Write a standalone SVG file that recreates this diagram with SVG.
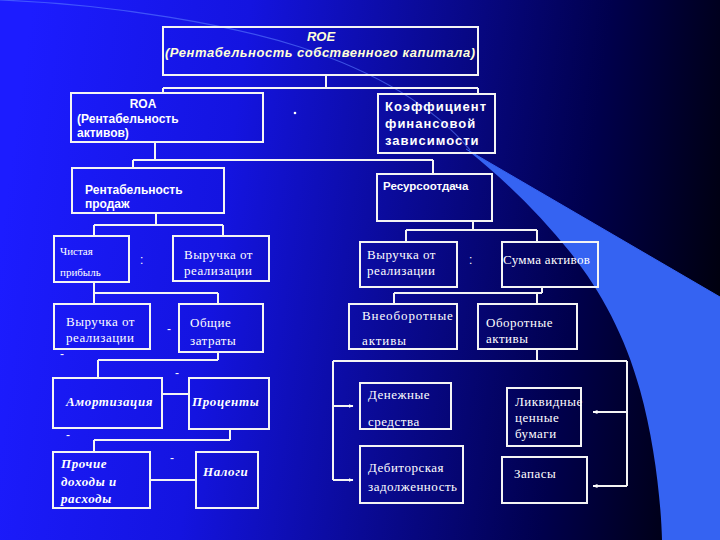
<svg xmlns="http://www.w3.org/2000/svg" width="720" height="540" viewBox="0 0 720 540">
<defs>
<linearGradient id="bg" x1="0" y1="0.45" x2="1" y2="0.55">
<stop offset="0" stop-color="#1c1cff"/>
<stop offset="0.3" stop-color="#1414e0"/>
<stop offset="0.55" stop-color="#0a0a95"/>
<stop offset="0.8" stop-color="#00004c"/>
<stop offset="1" stop-color="#00000e"/>
</linearGradient>
<marker id="ah" viewBox="0 0 10 10" refX="9" refY="5" markerWidth="5" markerHeight="5" orient="auto" markerUnits="userSpaceOnUse">
<path d="M0,1 L10,5 L0,9 Z" fill="#ffffff"/>
</marker>
<style>
.box{fill:none;stroke:#f4f4f4;stroke-width:2}
.ln{fill:none;stroke:#f4f4f4;stroke-width:2}
.hs{font-family:"Liberation Sans",Arial,sans-serif;font-weight:bold;font-size:12px;fill:#ffffff}
.tm{font-family:"Liberation Serif","Times New Roman",serif;font-size:13px;fill:#ffffff;letter-spacing:0.5px}
.ti{font-family:"Liberation Serif","Times New Roman",serif;font-weight:bold;font-style:italic;font-size:13px;fill:#ffffff;letter-spacing:0.6px}
.op{font-family:"Liberation Sans",Arial,sans-serif;font-size:12px;fill:#ffffff}
</style>
</defs>
<rect x="0" y="0" width="720" height="540" fill="url(#bg)"/>
<path d="M720,297 L720,540 L662,540 C661,500 654,440 640,390 C625,335 600,290 570,252 C540,215 505,180 466,149 Z" fill="#3563f2"/>
<path d="M466,149 L720,297" fill="none" stroke="#3563f2" stroke-width="1"/>
<path d="M0,0 C120,5 230,25 300,47 C370,70 430,102 470,150" fill="none" stroke="#5a7cff" stroke-width="1.2" opacity="0.6"/>

<g id="connectors">
<path class="ln" d="M326,75 V88 M163,88 H478 M163,88 V93 M478,88 V94"/>
<path class="ln" d="M155,142 V160 M133,160 H433 M133,160 V168 M433,160 V174"/>
<path class="ln" d="M156,213 V225 M94,225 H223 M94,225 V236 M223,225 V236"/>
<path class="ln" d="M94,282 V293 M94,293 H218 M94,293 V304 M218,293 V304"/>
<path class="ln" d="M218,352 V360 M98,360 H218 M98,360 V378"/>
<path class="ln" d="M162,394 H189"/>
<path class="ln" d="M230,429 V440 M94,440 H230 M94,440 V452"/>
<path class="ln" d="M150,480 H196"/>
<path class="ln" d="M473,221 V230 M406,230 H537 M406,230 V242 M537,230 V242"/>
<path class="ln" d="M542,287 V293 M394,293 H542 M394,293 V304 M537,293 V304"/>
<path class="ln" d="M537,349 V361 M333,361 H627 M333,361 V480 M627,361 V486"/>
<path class="ln" d="M333,406 H353" marker-end="url(#ah)"/>
<path class="ln" d="M333,480 H353" marker-end="url(#ah)"/>
<path class="ln" d="M627,412 H593" marker-end="url(#ah)"/>
<path class="ln" d="M627,486 H593" marker-end="url(#ah)"/>
</g>

<g id="roe">
<rect class="box" x="163" y="27" width="315" height="48"/>
<text x="321" y="41" text-anchor="middle" class="hs" font-style="italic" style="fill:#ffffd8;font-size:13px">ROE</text>
<text x="165" y="57" class="hs" font-style="italic" textLength="310" lengthAdjust="spacing" style="fill:#ffffd8;font-size:13px">(Рентабельность собственного капитала)</text>
</g>
<g id="roa">
<rect class="box" x="71" y="93" width="192" height="49"/>
<text x="143" y="108" text-anchor="middle" class="hs">ROA</text>
<text x="77" y="123" class="hs">(Рентабельность</text>
<text x="77" y="137" class="hs">активов)</text>
</g>
<circle cx="295" cy="113" r="1.3" fill="#ffffff"/>
<g id="kfz">
<rect class="box" x="378" y="94" width="117" height="59"/>
<text x="385" y="111" class="hs" style="font-size:13px;letter-spacing:1px">Коэффициент</text>
<text x="385" y="128" class="hs" style="font-size:13px;letter-spacing:1px">финансовой</text>
<text x="385" y="145" class="hs" style="font-size:13px;letter-spacing:1px">зависимости</text>
</g>
<g id="rp">
<rect class="box" x="72" y="168" width="152" height="45"/>
<text x="85" y="194" class="hs">Рентабельность</text>
<text x="85" y="208" class="hs">продаж</text>
</g>
<g id="ro">
<rect class="box" x="377" y="174" width="115" height="47"/>
<text x="383" y="190" class="hs" style="font-size:11.5px">Ресурсоотдача</text>
</g>
<g id="cp">
<rect class="box" x="54" y="236" width="75" height="46"/>
<text x="60" y="255" class="tm" style="font-size:11px;letter-spacing:0">Чистая</text>
<text x="60" y="276" class="tm" style="font-size:11px;letter-spacing:0">прибыль</text>
</g>
<text x="140" y="264" class="op">:</text>
<g id="vr1">
<rect class="box" x="173" y="236" width="96" height="45"/>
<text x="184" y="259" class="tm">Выручка от</text>
<text x="184" y="275" class="tm">реализации</text>
</g>
<g id="vr2">
<rect class="box" x="54" y="304" width="96" height="45"/>
<text x="66" y="326" class="tm">Выручка от</text>
<text x="66" y="342" class="tm">реализации</text>
</g>
<text x="167" y="333" class="op">-</text>
<g id="oz">
<rect class="box" x="179" y="304" width="84" height="48"/>
<text x="190" y="327" class="tm">Общие</text>
<text x="190" y="345" class="tm">затраты</text>
</g>
<text x="60" y="358" class="op">-</text>
<text x="175" y="377" class="op">-</text>
<g id="am">
<rect class="box" x="53" y="378" width="109" height="50"/>
<text x="66" y="406" class="ti">Амортизация</text>
</g>
<g id="pc">
<rect class="box" x="189" y="378" width="80" height="51"/>
<text x="192" y="406" class="ti">Проценты</text>
</g>
<text x="66" y="439" class="op">-</text>
<text x="170" y="462" class="op">-</text>
<g id="pr">
<rect class="box" x="53" y="452" width="97" height="56"/>
<text x="61" y="468" class="ti">Прочие</text>
<text x="61" y="486" class="ti">доходы и</text>
<text x="61" y="503" class="ti">расходы</text>
</g>
<g id="nl">
<rect class="box" x="196" y="452" width="62" height="56"/>
<text x="203" y="476" class="ti">Налоги</text>
</g>
<g id="vr3">
<rect class="box" x="360" y="242" width="97" height="45"/>
<text x="367" y="259" class="tm">Выручка от</text>
<text x="367" y="275" class="tm">реализации</text>
</g>
<text x="469" y="264" class="op">:</text>
<g id="sa">
<rect class="box" x="502" y="242" width="96" height="45"/>
<text x="503" y="264" class="tm" style="letter-spacing:0.3px">Сумма активов</text>
</g>
<g id="va">
<rect class="box" x="349" y="304" width="108" height="45"/>
<text x="362" y="320" class="tm" style="letter-spacing:0.9px">Внеоборотные</text>
<text x="362" y="345" class="tm" style="letter-spacing:0.9px">активы</text>
</g>
<g id="oa">
<rect class="box" x="478" y="304" width="99" height="45"/>
<text x="486" y="327" class="tm">Оборотные</text>
<text x="486" y="343" class="tm">активы</text>
</g>
<g id="ds">
<rect class="box" x="360" y="383" width="91" height="46"/>
<text x="368" y="399" class="tm">Денежные</text>
<text x="368" y="426" class="tm">средства</text>
</g>
<g id="dz">
<rect class="box" x="360" y="446" width="103" height="57"/>
<text x="368" y="472" class="tm">Дебиторская</text>
<text x="368" y="491" class="tm">задолженность</text>
</g>
<g id="lb">
<rect class="box" x="507" y="388" width="74" height="58"/>
<text x="515" y="406" class="tm">Ликвидные</text>
<text x="515" y="422" class="tm">ценные</text>
<text x="515" y="438" class="tm">бумаги</text>
</g>
<g id="zp">
<rect class="box" x="502" y="457" width="85" height="46"/>
<text x="514" y="478" class="tm">Запасы</text>
</g>
</svg>
